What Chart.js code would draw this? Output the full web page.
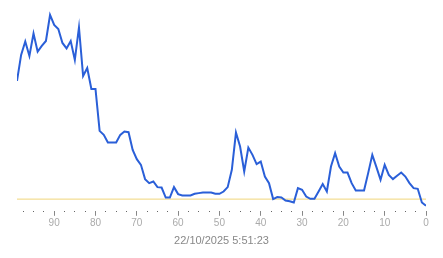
<!DOCTYPE html>
<html>
<head>
<meta charset="utf-8">
<script src="https://cdn.jsdelivr.net/npm/chart.js@4.4.1/dist/chart.umd.min.js"></script>
<style>
  html, body { margin: 0; padding: 0; background: #fff; }
  #wrap { width: 443px; height: 258px; }
</style>
</head>
<body>
<div id="wrap"><canvas id="grafico"></canvas></div>
<script>
// muestras: 99 (más antigua) -> 0 (actual)
const muestras = [
  99, 98, 97, 96, 95, 94, 93, 92, 91, 90,
  89, 88, 87, 86, 85, 84, 83, 82, 81, 80,
  79, 78, 77, 76, 75, 74, 73, 72, 71, 70,
  69, 68, 67, 66, 65, 64, 63, 62, 61, 60,
  59, 58, 57, 56, 55, 54, 53, 52, 51, 50,
  49, 48, 47, 46, 45, 44, 43, 42, 41, 40,
  39, 38, 37, 36, 35, 34, 33, 32, 31, 30,
  29, 28, 27, 26, 25, 24, 23, 22, 21, 20,
  19, 18, 17, 16, 15, 14, 13, 12, 11, 10,
  9, 8, 7, 6, 5, 4, 3, 2, 1, 0
];
const valores = [
  130, 156, 169.5, 155, 177.5, 159.3, 165, 170, 196, 186,
  182, 168, 162.5, 170, 151, 183.5, 135, 143, 122, 122,
  80, 76, 68.3, 68.3, 68.3, 76, 79.3, 78.7, 61, 51.7,
  46, 31.7, 27.7, 29.3, 23.7, 23.3, 13.3, 13.3, 23.7, 16.7,
  15.3, 15.3, 15.3, 17, 17.7, 18.3, 18.3, 18.3, 17, 17,
  19.3, 23.7, 41, 78.3, 64.3, 39.3, 63.3, 56, 46.7, 49.3,
  34.3, 27.7, 11.7, 13.7, 13.3, 10.3, 9.5, 8.3, 22.7, 21,
  14.3, 12, 12, 19.3, 26.7, 19.3, 44.3, 57.7, 44.3, 38.3,
  38.3, 27.7, 20.3, 20.3, 20.3, 37.7, 56, 43.7, 31, 46,
  36, 31.7, 35, 38.3, 34.3, 27.7, 22.7, 22, 8.3, 5
];
const umbral = 11.7;
const etiquetas = [90, 80, 70, 60, 50, 40, 30, 20, 10, 0];
const titulo = '22/10/2025 5:51:23';

const ctx = document.getElementById('grafico').getContext('2d');
const esMayor = c => c.tick !== undefined && etiquetas.includes(c.tick.value);

const chart = new Chart(ctx, {
  type: 'line',
  data: {
    datasets: [
      {
        label: 'Variable',
        data: muestras.map((x, i) => ({ x, y: valores[i] })),
        borderColor: '#2a5fd8',
        borderWidth: 2,
        pointRadius: 0,
        tension: 0,
        fill: false,
        order: 1
      },
      {
        label: 'Umbral',
        data: [{ x: 99, y: umbral }, { x: 0, y: umbral }],
        borderColor: '#f0d57a',
        borderWidth: 1,
        pointRadius: 0,
        fill: false,
        order: 2
      }
    ]
  },
  options: {
    responsive: true,
    maintainAspectRatio: false,
    animation: false,
    layout: { padding: { left: 17, right: 17, top: 5, bottom: 10 } },
    plugins: {
      legend: { display: false },
      tooltip: { enabled: false }
    },
    scales: {
      x: {
        type: 'linear',
        reverse: true,
        min: 0,
        max: 99,
        bounds: 'data',
        border: { display: false },
        afterBuildTicks: scale => {
          const t = [];
          for (let v = 0; v < 99; v += 2.5) t.push({ value: v });
          scale.ticks = t;
        },
        grid: {
          drawOnChartArea: false,
          drawTicks: true,
          tickLength: 5,
          tickWidth: 1,
          tickColor: c => (esMayor(c) ? '#888' : '#666'),
          tickBorderDash: c => (esMayor(c) ? [] : [1, 10])
        },
        ticks: {
          autoSkip: false,
          maxRotation: 0,
          padding: 1,
          color: '#aaa',
          font: { family: 'Liberation Sans, Arial, sans-serif', size: 10 },
          callback: v => (etiquetas.includes(v) ? String(v) : '')
        },
        title: {
          display: true,
          text: titulo,
          color: '#888',
          padding: { top: 5, bottom: 0 },
          font: { family: 'Liberation Sans, Arial, sans-serif', size: 11 }
        }
      },
      y: {
        display: false,
        min: 0,
        max: 206
      }
    }
  }
});
</script>
</body>
</html>
